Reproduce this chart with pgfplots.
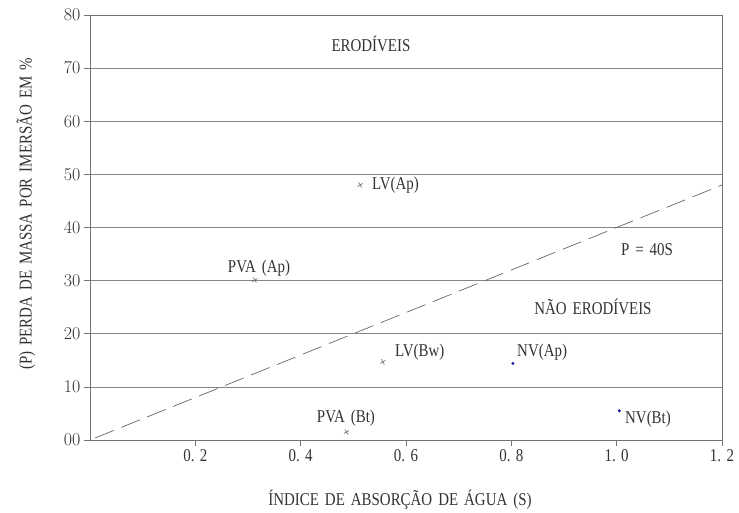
\documentclass[border=0pt]{standalone}
\usepackage{fix-cm}
\usepackage{fontspec}
\setmainfont{Liberation Serif}[FakeStretch=0.83]
\usepackage{pgfplots}
\pgfplotsset{compat=1.18}
\definecolor{txt}{RGB}{50,50,50}
\definecolor{dotblue}{RGB}{30,30,170}
\newcommand{\wsp}{\hspace{6pt}}
\begin{document}
\begin{tikzpicture}
\useasboundingbox (0,0) rectangle (739pt,513pt);
\begin{axis}[
  at={(90pt,73pt)}, anchor=south west,
  scale only axis, width=632pt, height=425pt,
  xmin=0, xmax=1.2, ymin=0, ymax=80,
  xtick={0.2,0.4,0.6,0.8,1.0,1.2},
  xticklabels={{0.\hspace{0.3em}2},{0.\hspace{0.3em}4},{0.\hspace{0.3em}6},{0.\hspace{0.3em}8},{1.\hspace{0.3em}0},{1.\hspace{0.3em}2}},
  ytick={0,10,20,30,40,50,60,70,80},
  yticklabels={{$00$},{$10$},{$20$},{$30$},{$40$},{$50$},{$60$},{$70$},{$80$}},
  xticklabel style={font=\fontsize{18}{20}\selectfont, text=txt},
  yticklabel style={font=\fontsize{18}{20}\selectfont, text=txt},
  ymajorgrids,
  grid style={black!48, line width=0.7pt},
  axis line style={black!55, line width=0.8pt},
  tick style={black!55, line width=0.7pt},
  tick align=outside, major tick length=6pt,
  xtick pos=bottom, ytick pos=left,
  clip=false,
]
% P = 40S line
\addplot[black!60, line width=0.7pt, dash pattern=on 20pt off 8pt] coordinates {(0.01,0.4) (1.2,48)};
% crosses
\addplot[only marks, mark=+, mark size=3pt, mark options={rotate=30, black!60, line width=0.6pt}] coordinates {
 (0.513,48.0) (0.313,30.1) (0.556,14.7) (0.487,1.5)};
% blue dots
\addplot[only marks, mark=*, mark size=1.3pt, color=dotblue] coordinates {
 (0.803,14.4) (1.005,5.5)};
\begin{scope}[every node/.style={font=\fontsize{18}{20}\selectfont, text=txt, inner sep=0pt}]
\node at (axis cs:0.5335,74.5) {ERODÍVEIS};
\node at (axis cs:1.0576,35.8) {P\wsp=\wsp40S};
\node at (axis cs:0.955,25.0) {NÃO\wsp ERODÍVEIS};
\node[anchor=west] at (axis cs:0.5354,48.0) {LV(Ap)};
\node at (axis cs:0.321,32.4) {PVA\wsp(Ap)};
\node[anchor=west] at (axis cs:0.579,16.6) {LV(Bw)};
\node[anchor=west] at (axis cs:0.8108,16.6) {NV(Ap)};
\node at (axis cs:0.486,4.1) {PVA\wsp(Bt)};
\node[anchor=west] at (axis cs:1.0158,3.95) {NV(Bt)};
\end{scope}
\end{axis}
\node[font=\fontsize{18}{20}\selectfont, text=txt] at (400pt,13pt) {ÍNDICE\wsp DE\wsp ABSORÇÃO\wsp DE\wsp ÁGUA\wsp(S)};
\node[font=\fontsize{18}{20}\selectfont, text=txt, rotate=90] at (26pt,299pt) {(P)\wsp PERDA\wsp DE\wsp MASSA\wsp POR\wsp IMERSÃO\wsp EM\wsp\%};
\end{tikzpicture}
\end{document}
